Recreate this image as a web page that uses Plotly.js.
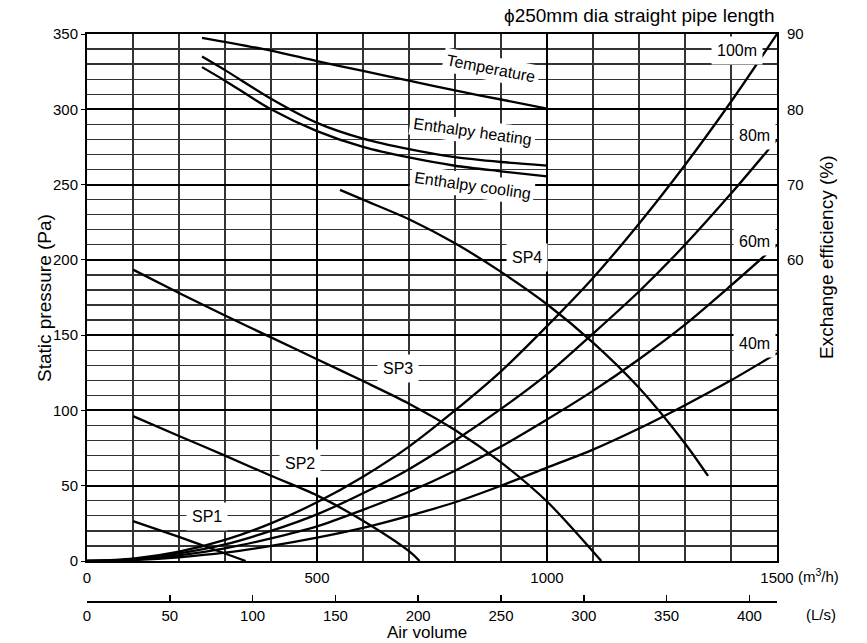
<!DOCTYPE html>
<html>
<head>
<meta charset="utf-8">
<script src="https://cdn.plot.ly/plotly-3.0.1.min.js"></script>
<style>html,body{margin:0;padding:0;background:#fff;}#chart{width:867px;height:643px;}</style>
</head>
<body>
<div id="chart"></div>
<script>
// ---- data (air volume in m3/h, static pressure in Pa) ----
const pipeQ = [0,100,200,300,400,500,600,700,800,900,1000,1100,1200,1300,1400,1500];
const pipe100m = [0,1.6,6.2,14,25,39,56,76,100,126,156,188,224,263,305,350];
const pipe80m  = [0,1.2,5,11,20,31,45,61,80,101,124,151,179,210,244,280];
const pipe60m  = [0,0.9,3.7,8.4,15,23,34,46,60,76,94,113,134,157,183,210];
const pipe40m  = [0,0.6,2.5,5.5,10,15.5,22,30,39,50,62,74,88,103.5,120,138];

const sp1Q = [100,200,300,345];
const sp1P = [26.5,16,5,0];
const sp2Q = [100,200,300,400,500,600,700,723];
const sp2P = [96.2,83,70,56.6,43.6,26.7,6.5,0];
const sp3Q = [100,200,300,400,500,600,700,800,900,1000,1118];
const sp3P = [193.5,178,163,148.5,134,119.5,104.5,87,65.5,39.5,0];
const sp4Q = [550,600,700,800,900,1000,1100,1200,1300,1350];
const sp4P = [246.5,240,227,211,192,170.5,145,115,78,56.5];

// efficiency curves drawn on the pressure scale (right axis: 90% = 350 Pa, 60% = 200 Pa)
const tempQ = [250,400,500,600,700,800,900,1000];
const tempP = [347.5,339,332,325.5,319,312.5,306.5,300.5];
const enthQ = [250,300,400,500,600,700,800,900,1000];
const heatP = [335,326,307,291,280.5,273.5,268.2,265,262.6];
const coolP = [328,319,300,285.5,275,268,262.5,258.8,255.4];

const xTickVals = [0,500,1000,1500];
const lsTickVals = [0,50,100,150,200,250,300,350,400];
const yTickVals = [0,50,100,150,200,250,300,350];
const effTickVals = [60,70,80,90];

// curve labels: [text, x (m3/h), y (Pa), angle]
const curveLabels = [
  ['Temperature', 878, 327, 11],
  ['Enthalpy heating', 838, 285, 8],
  ['Enthalpy cooling', 837, 249.5, 8],
  ['SP1', 260, 29.4, 0],
  ['SP2', 462, 64.8, 0],
  ['SP3', 676, 127.8, 0],
  ['SP4', 957, 201.4, 0],
  ['100m', 1412, 339, 0],
  ['80m', 1450, 282.5, 0],
  ['60m', 1450, 212.4, 0],
  ['40m', 1450, 144.4, 0]
];

const FONT = 'Liberation Sans, Arial, sans-serif';
const lineStyle = {color:'#000', width:2.3, shape:'spline', smoothing:0.8};
function curve(x, y){ return {x:x, y:y, type:'scatter', mode:'lines', line:lineStyle, hoverinfo:'skip', showlegend:false, xaxis:'x', yaxis:'y'}; }

const traces = [
  curve(pipeQ, pipe100m), curve(pipeQ, pipe80m), curve(pipeQ, pipe60m), curve(pipeQ, pipe40m),
  curve(sp1Q, sp1P), curve(sp2Q, sp2P), curve(sp3Q, sp3P), curve(sp4Q, sp4P),
  curve(tempQ, tempP), curve(enthQ, heatP), curve(enthQ, coolP),
  // carriers for the secondary axes
  {x:[0], y:[60], type:'scatter', mode:'markers', marker:{opacity:0}, xaxis:'x', yaxis:'y2', hoverinfo:'skip', showlegend:false},
  {x:[0], y:[0], type:'scatter', mode:'markers', marker:{opacity:0}, xaxis:'x2', yaxis:'y', hoverinfo:'skip', showlegend:false}
];

const L = 87, R = 90, T = 34, B = 42, W = 867, H = 643;
const pw = W - L - R, ph = H - T - B;
const plotBottom = 561;
const yDomLo = (H - B - plotBottom) / ph;
function px(x){ return (x - L) / pw; }
function py(y){ return (H - B - y) / ph; }

const annotations = curveLabels.map(function(c){
  return {text:c[0], x:c[1], y:c[2], xref:'x', yref:'y', showarrow:false, textangle:c[3],
          bgcolor:'#fff', borderpad:c[3] ? 3 : 5, font:{family:FONT, size:16, color:'#000'}};
});
annotations.push(
  {text:'\u03d5250mm dia straight pipe length', x:px(776), y:py(16), xref:'paper', yref:'paper', xanchor:'right', yanchor:'middle', showarrow:false, font:{family:FONT, size:19, color:'#000'}},
  {text:'(m<sup>3</sup>/h)', x:px(818), y:py(575), xref:'paper', yref:'paper', xanchor:'center', yanchor:'middle', showarrow:false, font:{family:FONT, size:15, color:'#000'}},
  {text:'(L/s)', x:px(821), y:py(614), xref:'paper', yref:'paper', xanchor:'center', yanchor:'middle', showarrow:false, font:{family:FONT, size:15, color:'#000'}},
  {text:'Air volume', x:px(427), y:py(632), xref:'paper', yref:'paper', xanchor:'center', yanchor:'middle', showarrow:false, font:{family:FONT, size:17, color:'#000'}},
  {text:'Static pressure (Pa)', x:px(44), y:py(298), xref:'paper', yref:'paper', xanchor:'center', yanchor:'middle', textangle:-90, showarrow:false, font:{family:FONT, size:19, color:'#000'}},
  {text:'Exchange efficiency (%)', x:px(826), y:py(258), xref:'paper', yref:'paper', xanchor:'center', yanchor:'middle', textangle:-90, showarrow:false, font:{family:FONT, size:19, color:'#000'}}
);

const layout = {
  width:W, height:H,
  margin:{l:L, r:R, t:T, b:B, pad:0},
  paper_bgcolor:'#fff', plot_bgcolor:'#fff',
  font:{family:FONT, size:15, color:'#000'},
  showlegend:false,
  xaxis:{range:[0,1500], domain:[0,1], anchor:'y', tickmode:'array', tickvals:xTickVals, ticks:'outside', ticklen:2, tickcolor:'rgba(0,0,0,0)',
         showgrid:true, gridcolor:'#000', gridwidth:2, zeroline:false, showline:true, linecolor:'#000', linewidth:2, mirror:true,
         minor:{dtick:100, tick0:0, showgrid:true, gridcolor:'#333', gridwidth:1.3, ticks:''},
         tickfont:{family:FONT, size:15}, fixedrange:true},
  xaxis2:{range:[0,1500/3.6], domain:[0,1], anchor:'free', position:0, overlaying:'x', side:'bottom',
          tickmode:'array', tickvals:lsTickVals, ticks:'inside', ticklen:6, tickwidth:1.5, tickcolor:'#000',
          showgrid:false, zeroline:false, showline:true, linecolor:'#000', linewidth:1.5,
          tickfont:{family:FONT, size:15}, fixedrange:true},
  yaxis:{range:[0,350], domain:[yDomLo,1], anchor:'x', tickmode:'array', tickvals:yTickVals, ticks:'outside', ticklen:4, tickcolor:'#000',
         showgrid:true, gridcolor:'#000', gridwidth:2, zeroline:false, showline:true, linecolor:'#000', linewidth:2, mirror:true,
         minor:{dtick:10, tick0:0, showgrid:true, gridcolor:'#333', gridwidth:1.3, ticks:''},
         tickfont:{family:FONT, size:15}, fixedrange:true},
  yaxis2:{range:[20,90], domain:[yDomLo,1], anchor:'x', overlaying:'y', side:'right', tickmode:'array', tickvals:effTickVals,
          ticks:'outside', ticklen:6, tickcolor:'rgba(0,0,0,0)', showgrid:false, zeroline:false, showline:false,
          tickfont:{family:FONT, size:15}, fixedrange:true},
  annotations:annotations
};

Plotly.newPlot('chart', traces, layout, {staticPlot:true, displayModeBar:false});
</script>
</body>
</html>
